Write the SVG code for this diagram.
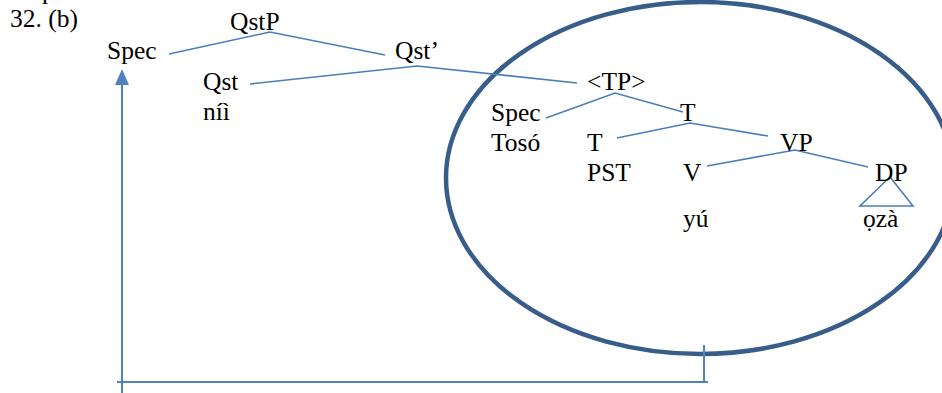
<svg xmlns="http://www.w3.org/2000/svg" width="942" height="393" viewBox="0 0 942 393">
<style>
text{font-family:"Liberation Serif","Times New Roman",serif;font-size:25.5px;fill:#000}
.e{fill:none;stroke:#4a7ebb;stroke-width:1.6}
.a{fill:none;stroke:#4f81bd;stroke-width:2}
</style>
<defs>
<marker id="ah" markerWidth="8" markerHeight="7" refX="1" refY="3.5" orient="auto" markerUnits="strokeWidth">
<path d="M0,0 L8,3.5 L0,7 Z" fill="#4f81bd"/>
</marker>
</defs>
<rect width="942" height="393" fill="#fff"/>
<text x="42" y="-1">p</text>
<text x="10" y="27">32. (b)</text>
<ellipse id="circle" cx="700" cy="178" rx="254" ry="176" fill="none" stroke="#385d8a" stroke-width="4.5"/>
<g id="connectors">
<polyline class="e" points="169,54 270,32 385,55"/>
<polyline class="e" points="250,84 417,66 577,83"/>
<polyline class="e" points="546,118 615,93 683,112"/>
<polyline class="e" points="617,138 690,123 768,136"/>
<polyline class="e" points="707,166 795,150 868,167"/>
<polygon class="e" points="890,177 860,206 913,206"/>
<polyline class="a" points="122,393 122,83" marker-end="url(#ah)"/>
<line class="a" x1="117" y1="382" x2="708" y2="382"/>
<line class="a" x1="704" y1="345" x2="704" y2="381"/>
</g>
<g id="QstP"><text x="230" y="30">QstP</text></g>
<g id="Spec1"><text x="107" y="59">Spec</text></g>
<g id="QstBar"><text x="395" y="59">Qst’</text></g>
<g id="Qst"><text x="203" y="90">Qst</text><text x="203" y="120">níì</text></g>
<g id="TP"><text x="587" y="90">&lt;TP&gt;</text></g>
<g id="Spec2"><text x="491" y="121">Spec</text><text x="491" y="151">Tosó</text></g>
<g id="Tbar"><text x="680" y="121">T</text></g>
<g id="T"><text x="587" y="151">T</text><text x="587" y="181">PST</text></g>
<g id="VP"><text x="780" y="151">VP</text></g>
<g id="V"><text x="683" y="181">V</text><text x="683" y="227">yú</text></g>
<g id="DP"><text x="875" y="181">DP</text><text x="863" y="227">ọzà</text></g>
</svg>
